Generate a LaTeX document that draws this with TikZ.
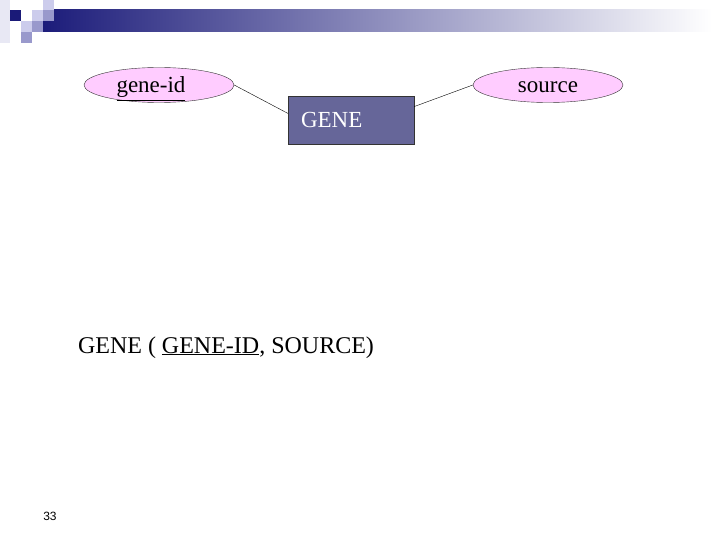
\documentclass[tikz,border=0pt]{standalone}
\usepackage{fontspec}
\setmainfont{Liberation Serif}
\newfontfamily\numfont{Liberation Sans}
\usepackage{tikz}
\usetikzlibrary{shapes.geometric}

\definecolor{barnavy}{RGB}{28,28,122}
\definecolor{bargray}{RGB}{160,160,184}
\definecolor{sqnavy}{RGB}{26,26,120}
\definecolor{sqmid}{RGB}{153,153,204}
\definecolor{sqlight}{RGB}{204,204,236}
\definecolor{sqfaint}{RGB}{232,232,244}
\definecolor{attrpink}{RGB}{255,204,255}
\definecolor{entityblue}{RGB}{102,102,153}

% key attribute, underline set low
\newcommand\keyul[1]{\underline{#1\rule[-6pt]{0pt}{0pt}}}

\tikzset{
  bigfont/.style={font=\fontsize{23}{27}\selectfont},
  attr/.style={ellipse, draw=black!80, fill=attrpink, minimum width=150pt,
    minimum height=35pt, inner sep=0pt, text height=16pt, text depth=1pt, bigfont},
  entity/.style={draw=black!80, fill=entityblue, text=white, text width=100pt,
    align=left, inner sep=0pt, inner xsep=13pt, minimum height=48pt, bigfont}
}

\begin{document}
\begin{tikzpicture}[x=1pt,y=-1pt]
\useasboundingbox (0,0) rectangle (720,540);

% Draw title bar and corner squares
\shade[left color=barnavy, middle color=bargray, right color=white] (43,10) rectangle (712,32);
\fill[sqfaint] (0,0) rectangle (10,43);
\foreach \x/\y/\c in {10/10/sqnavy, 43/0/sqlight, 32/10/sqlight, 43/10/sqmid,
                      21/21/sqlight, 32/21/sqmid, 21/32/sqmid} {
    \fill[\c] (\x,\y) rectangle ++(11,11);
}

% Draw entity and attributes
\node[attr] (geneid) at (159,85) {};
\node[bigfont, anchor=base, inner sep=0pt] (geneidtext) at (151,93) {\keyul{gene-id}};
\node[attr] (source) at (548,85) {source};
\node[entity] (gene) at (351,120) {GENE};
\draw (geneid.east) -- (gene.174);
\draw (gene.12) -- (source.west);

% Draw relation schema
\node[font=\fontsize{24}{28}\selectfont, anchor=base] (schema) at (226,353) {GENE ( \underline{GENE-ID}, SOURCE)};
\node[font=\numfont\fontsize{12}{14}\selectfont] (pagenum) at (50,516) {33};
\end{tikzpicture}
\end{document}
